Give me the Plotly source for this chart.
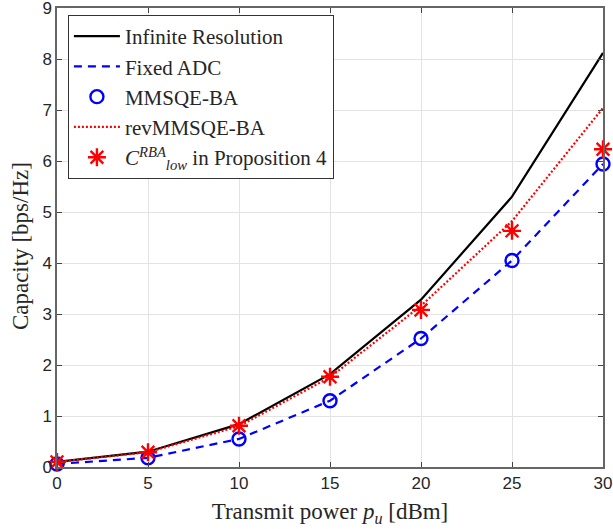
import plotly.graph_objects as go

power_dbm = [0, 5, 10, 15, 20, 25, 30]
infinite_res = [0.10, 0.30, 0.84, 1.82, 3.28, 5.30, 8.12]
fixed_adc = [0.06, 0.18, 0.55, 1.30, 2.52, 4.05, 5.94]
mmsqe_ba = [0.06, 0.18, 0.55, 1.30, 2.52, 4.05, 5.94]
rev_mmsqe_ba = [0.10, 0.29, 0.80, 1.76, 3.16, 4.82, 7.04]
c_low_rba = [0.10, 0.29, 0.81, 1.77, 3.08, 4.63, 6.23]

x_ticks = [0, 5, 10, 15, 20, 25, 30]
y_ticks = [0, 1, 2, 3, 4, 5, 6, 7, 8, 9]

serif = "Liberation Serif, Times New Roman, serif"
sans = "Liberation Sans, Arial, sans-serif"

fig = go.Figure()
fig.add_trace(go.Scatter(x=power_dbm, y=infinite_res, mode="lines", name="Infinite Resolution",
                         line=dict(color="black", width=2.2)))
fig.add_trace(go.Scatter(x=power_dbm, y=fixed_adc, mode="lines", name="Fixed ADC",
                         line=dict(color="#0000ff", width=2.2, dash="8px,6px")))
fig.add_trace(go.Scatter(x=power_dbm, y=mmsqe_ba, mode="markers", name="MMSQE-BA",
                         cliponaxis=False,
                         marker=dict(symbol="circle-open", size=13, color="#0000ff",
                                     line=dict(width=2.4, color="#0000ff"))))
fig.add_trace(go.Scatter(x=power_dbm, y=rev_mmsqe_ba, mode="lines", name="revMMSQE-BA",
                         line=dict(color="#ff0000", width=2.2, dash="2px,2px")))
fig.add_trace(go.Scatter(x=power_dbm, y=c_low_rba, mode="markers",
                         name="<i>C</i><sup><i>RBA</i></sup><sub><i>low</i></sub> in Proposition 4",
                         cliponaxis=False,
                         marker=dict(symbol="asterisk-open", size=15, color="#ff0000",
                                     line=dict(width=2.4, color="#ff0000"))))

axis_common = dict(showline=True, mirror="ticks", linecolor="#666666", linewidth=1.5,
                   ticks="inside", ticklen=5, tickcolor="#444444",
                   showgrid=True, gridcolor="#e3e3e3", gridwidth=1, zeroline=False,
                   tickfont=dict(family=sans, size=17, color="#262626"),
                   ticklabeloverflow="allow", automargin=False)

fig.update_layout(
    width=613, height=529,
    margin=dict(l=57, r=10, t=8, b=62),
    paper_bgcolor="white", plot_bgcolor="white",
    showlegend=True,
    legend=dict(x=0.02, y=0.985, xanchor="left", yanchor="top",
                bgcolor="white", bordercolor="#333333", borderwidth=1,
                font=dict(family=serif, size=21, color="#262626"),
                tracegroupgap=0, itemwidth=46),
    xaxis=dict(range=[0, 30], tickvals=x_ticks,
               title=dict(text="Transmit power <i>p<sub>u</sub></i> [dBm]",
                          font=dict(family=serif, size=23, color="#262626"), standoff=11),
               **axis_common),
    yaxis=dict(range=[0, 9], tickvals=y_ticks, **axis_common),
    annotations=[dict(text="Capacity [bps/Hz]", textangle=-90, showarrow=False,
                      xref="paper", yref="paper", x=-0.068, y=0.481,
                      xanchor="center", yanchor="middle",
                      font=dict(family=serif, size=23, color="#262626"))],
)

fig.write_html("out.html", config={"displayModeBar": False})

with open("out.html", "r", encoding="utf-8") as f:
    html = f.read()
html = html.replace("<head>", "<head><style>html,body{margin:0;padding:0;}</style>", 1)
with open("out.html", "w", encoding="utf-8") as f:
    f.write(html)
